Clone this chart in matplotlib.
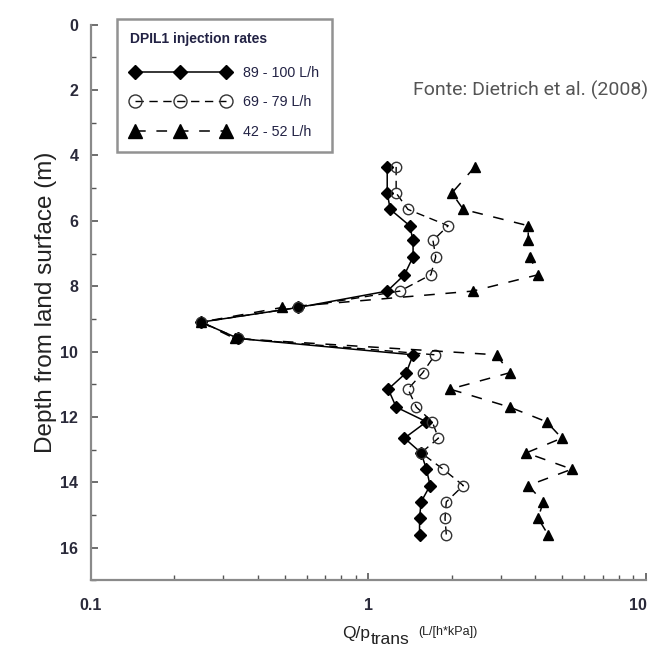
import numpy as np
import matplotlib
matplotlib.use('Agg')
from matplotlib import pyplot as plt
from matplotlib import transforms

# depth below land surface (m)
depth = [4.35, 5.15, 5.65, 6.15, 6.6, 7.1, 7.65, 8.15, 8.65, 9.1, 9.6, 10.1,
         10.65, 11.15, 11.7, 12.15, 12.65, 13.1, 13.6, 14.1, 14.6, 15.1, 15.6]

# Q/p_trans (L/[h*kPa]) per injection rate
rate_high = [1.17, 1.17, 1.20, 1.41, 1.45, 1.45, 1.35, 1.17, 0.56, 0.25, 0.34, 1.45,
             1.37, 1.18, 1.26, 1.62, 1.35, 1.55, 1.62, 1.67, 1.55, 1.53, 1.53]
rate_mid = [1.26, 1.26, 1.39, 1.94, 1.71, 1.75, 1.68, 1.30, 0.56, 0.25, 0.34, 1.74,
            1.57, 1.39, 1.49, 1.70, 1.79, 1.55, 1.86, 2.20, 1.91, 1.89, 1.91]
rate_low = [2.42, 2.00, 2.20, 3.77, 3.77, 3.82, 4.09, 2.38, 0.49, 0.25, 0.33, 2.90,
            3.23, 1.97, 3.23, 4.39, 4.98, 3.71, 5.41, 3.77, 4.27, 4.09, 4.44]

labels = ['89 - 100 L/h', '69 - 79 L/h', '42 - 52 L/h']

plt.rcParams['font.family'] = ['Liberation Sans', 'DejaVu Sans']

fig = plt.figure(figsize=(6.53, 6.52), dpi=100)
ax = fig.add_axes([0.139, 0.110, 0.850, 0.852])

ax.plot(rate_high, depth, color='k', lw=1.1, ls='-', marker='D', ms=6,
        mfc='k', mec='k', label=labels[0])
ax.plot(rate_mid, depth, color='k', lw=1.0, ls=(0, (6, 4)), marker='o', ms=7.5,
        mfc='none', mec='#333333', mew=1.0, label=labels[1])
ax.plot(rate_low, depth, color='k', lw=1.1, ls=(0, (7, 7)), marker='^', ms=7.5,
        mfc='k', mec='k', label=labels[2])

ax.set_xscale('log')
ax.set_xlim(0.1, 10)
ax.set_ylim(17, 0)
ax.set_yticks(np.arange(0, 17, 2))
ax.set_yticks(np.arange(1, 18, 2), minor=True)
ax.set_xticks([0.1, 1, 10])
ax.set_xticklabels(['0.1', '1', '10'])

for s in ['top', 'right']:
    ax.spines[s].set_visible(False)
for s in ['left', 'bottom']:
    ax.spines[s].set_color('#8a8a8a')
    ax.spines[s].set_linewidth(1.6)

ax.tick_params(which='major', direction='in', length=5, width=1.2, color='#555555',
               labelsize=11.5)
ax.tick_params(axis='x', which='major', pad=13)
ax.tick_params(axis='y', which='major', pad=9)
ax.tick_params(which='minor', direction='in', length=3.5, width=1.0, color='#555555')
for t in ax.get_xticklabels() + ax.get_yticklabels():
    t.set_fontweight('bold')
    t.set_color('#2a2a3a')
# keep "10" inside the figure edge
last = ax.get_xticklabels()[-1]
last.set_transform(last.get_transform() + transforms.ScaledTranslation(-6 / 72, 0, fig.dpi_scale_trans))

ax.set_ylabel('Depth from land surface (m)', fontsize=17.5, labelpad=2, color='#222222')

# x label: Q/p with subscript "trans" and a smaller unit
fig.text(0.567, 0.022, 'Q/p', fontsize=12.5, ha='right', va='baseline', color='#222222')
fig.text(0.567, 0.012, 'trans', fontsize=12.5, ha='left', va='baseline', color='#222222')
fig.text(0.640, 0.026, '(L/[h*kPa])', fontsize=9, ha='left', va='baseline', color='#222222')

leg = ax.legend(loc='upper left', bbox_to_anchor=(0.048, 1.01), numpoints=3,
                handlelength=7.0, fontsize=10.3, title='DPIL1 injection rates',
                frameon=True, fancybox=False, borderpad=0.9, labelspacing=1.1,
                handletextpad=0.9, borderaxespad=0, markerscale=1.25)
leg.get_title().set_fontsize(10)
leg.get_title().set_fontweight('bold')
leg.get_title().set_color('#222244')
leg._legend_box.align = 'left'
leg._legend_box.sep = 14
leg.get_frame().set_edgecolor('#777777')
leg.get_frame().set_linewidth(1.8)
for t in leg.get_texts():
    t.set_color('#222244')

fig.text(0.993, 0.862, 'Fonte: Dietrich et al. (2008)', fontsize=14, ha='right',
         va='center', color='#555555', family=['Roboto', 'DejaVu Sans'])

fig.savefig('out.png', dpi=100)
